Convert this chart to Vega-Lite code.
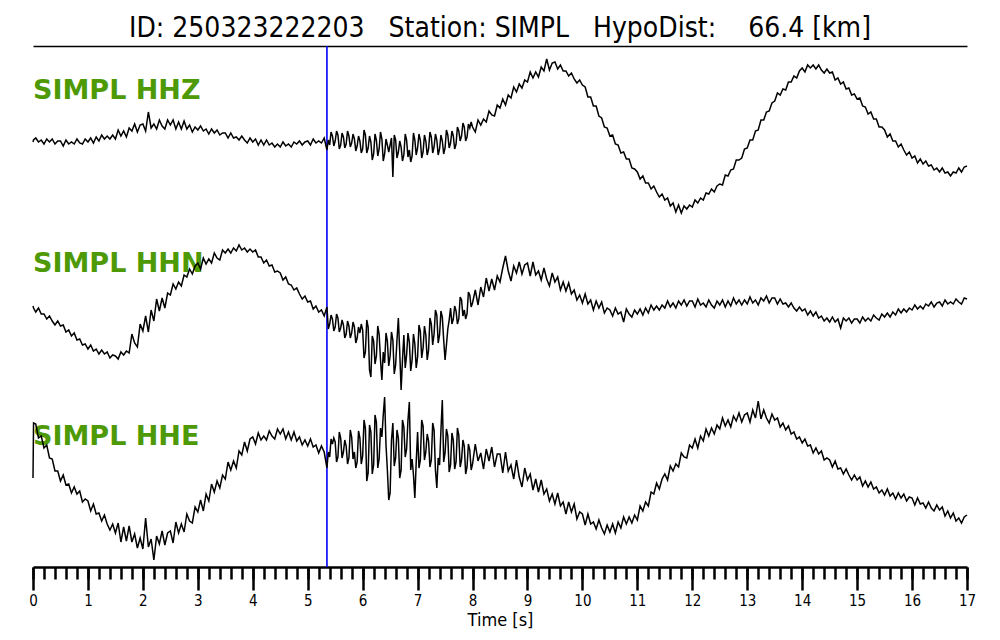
{
"$schema": "https://vega.github.io/schema/vega-lite/v6.json",
"width": 934, "height": 521,
"autosize": {"type": "none"},
"padding": {"left": 33, "top": 46, "right": 33, "bottom": 73},
"background": "white",
"title": {"text": "ID: 250323222203\u00a0\u00a0 Station: SIMPL\u00a0\u00a0 HypoDist:\u00a0\u00a0\u00a0 66.4 [km]", "font": "DejaVu Sans Condensed, DejaVu Sans", "fontSize": 28, "fontWeight": "normal", "color": "black", "anchor": "middle", "frame": "group", "offset": 2},
"config": {"view": {"stroke": null}, "axis": {"domainColor": "black", "tickColor": "black", "labelColor": "black", "titleColor": "black", "grid": false}},
"datasets": {"traces": [
{"t":0,"z":142,"n":306,"e":478},{"t":0.01,"z":140,"n":308,"e":423},{"t":0.05,"z":138,"n":312,"e":424},{"t":0.1,"z":142,"n":308,"e":438},{"t":0.15,"z":140,"n":314,"e":436},{"t":0.2,"z":144,"n":314,"e":448},{"t":0.25,"z":139,"n":319,"e":445},{"t":0.3,"z":142,"n":316,"e":458},{"t":0.35,"z":139,"n":321,"e":459},{"t":0.4,"z":144,"n":325,"e":471},{"t":0.45,"z":141,"n":321,"e":471},
{"t":0.5,"z":141,"n":326,"e":481},{"t":0.55,"z":146,"n":325,"e":475},{"t":0.6,"z":140,"n":332,"e":485},{"t":0.65,"z":144,"n":330,"e":484},{"t":0.7,"z":142,"n":336,"e":493},{"t":0.75,"z":144,"n":333,"e":487},{"t":0.8,"z":139,"n":340,"e":494},{"t":0.85,"z":143,"n":339,"e":491},{"t":0.9,"z":144,"n":345,"e":502},{"t":0.95,"z":139,"n":344,"e":499},
{"t":1.0,"z":142,"n":349,"e":501},{"t":1.05,"z":138,"n":345,"e":511},{"t":1.1,"z":143,"n":351,"e":504},{"t":1.15,"z":137,"n":349,"e":514},{"t":1.2,"z":141,"n":354,"e":513},{"t":1.25,"z":135,"n":350,"e":521},{"t":1.3,"z":139,"n":354,"e":515},{"t":1.35,"z":136,"n":352,"e":524},{"t":1.4,"z":139,"n":358,"e":530},{"t":1.45,"z":135,"n":355,"e":524},
{"t":1.5,"z":139,"n":356,"e":533},{"t":1.55,"z":130,"n":359,"e":523},{"t":1.6,"z":136,"n":352,"e":542},{"t":1.65,"z":131,"n":355,"e":527},{"t":1.7,"z":137,"n":351,"e":541},{"t":1.75,"z":128,"n":353,"e":526},{"t":1.8,"z":131,"n":334,"e":542},{"t":1.85,"z":124,"n":343,"e":534},{"t":1.9,"z":132,"n":347,"e":548},{"t":1.95,"z":125,"n":324,"e":538},
{"t":2.0,"z":124,"n":331,"e":549},{"t":2.05,"z":131,"n":316,"e":518},{"t":2.1,"z":112,"n":332,"e":547},{"t":2.15,"z":128,"n":310,"e":539},{"t":2.2,"z":124,"n":321,"e":560},{"t":2.25,"z":129,"n":299,"e":536},{"t":2.3,"z":120,"n":311,"e":544},{"t":2.35,"z":126,"n":298,"e":531},{"t":2.4,"z":129,"n":308,"e":545},{"t":2.45,"z":120,"n":293,"e":533},
{"t":2.5,"z":125,"n":295,"e":531},{"t":2.55,"z":120,"n":284,"e":543},{"t":2.6,"z":129,"n":289,"e":522},{"t":2.65,"z":122,"n":282,"e":533},{"t":2.7,"z":129,"n":286,"e":524},{"t":2.75,"z":121,"n":275,"e":532},{"t":2.8,"z":129,"n":277,"e":514},{"t":2.85,"z":125,"n":269,"e":521},{"t":2.9,"z":132,"n":274,"e":523},{"t":2.95,"z":127,"n":266,"e":507},
{"t":3.0,"z":130,"n":263,"e":512},{"t":3.05,"z":126,"n":269,"e":500},{"t":3.1,"z":131,"n":258,"e":511},{"t":3.15,"z":129,"n":264,"e":494},{"t":3.2,"z":134,"n":259,"e":501},{"t":3.25,"z":129,"n":263,"e":484},{"t":3.3,"z":133,"n":253,"e":492},{"t":3.35,"z":130,"n":258,"e":481},{"t":3.4,"z":135,"n":260,"e":488},{"t":3.45,"z":133,"n":250,"e":475},
{"t":3.5,"z":133,"n":253,"e":479},{"t":3.55,"z":138,"n":249,"e":462},{"t":3.6,"z":133,"n":253,"e":470},{"t":3.65,"z":138,"n":248,"e":461},{"t":3.7,"z":137,"n":251,"e":468},{"t":3.75,"z":140,"n":245,"e":451},{"t":3.8,"z":136,"n":250,"e":455},{"t":3.85,"z":140,"n":248,"e":442},{"t":3.9,"z":143,"n":252,"e":451},{"t":3.95,"z":138,"n":249,"e":439},
{"t":4.0,"z":142,"n":252,"e":437},{"t":4.05,"z":139,"n":250,"e":444},{"t":4.1,"z":145,"n":257,"e":433},{"t":4.15,"z":140,"n":257,"e":440},{"t":4.2,"z":145,"n":263,"e":436},{"t":4.25,"z":140,"n":260,"e":440},{"t":4.3,"z":145,"n":266,"e":431},{"t":4.35,"z":143,"n":265,"e":436},{"t":4.4,"z":147,"n":272,"e":439},{"t":4.45,"z":144,"n":271,"e":429},
{"t":4.5,"z":147,"n":273,"e":434},{"t":4.55,"z":142,"n":280,"e":429},{"t":4.6,"z":146,"n":277,"e":439},{"t":4.65,"z":144,"n":284,"e":432},{"t":4.7,"z":147,"n":285,"e":440},{"t":4.75,"z":142,"n":290,"e":432},{"t":4.8,"z":144,"n":288,"e":441},{"t":4.85,"z":141,"n":294,"e":437},{"t":4.9,"z":145,"n":299,"e":445},{"t":4.95,"z":142,"n":296,"e":440},
{"t":5.0,"z":141,"n":302,"e":446},{"t":5.05,"z":145,"n":301,"e":439},{"t":5.1,"z":139,"n":309,"e":447},{"t":5.15,"z":143,"n":306,"e":445},{"t":5.2,"z":141,"n":312,"e":453},{"t":5.25,"z":143,"n":310,"e":446},{"t":5.3,"z":138,"n":316,"e":452},{"t":5.35,"z":150,"n":307,"e":468},{"t":5.4,"z":145,"n":324,"e":457},{"t":5.45,"z":136,"n":319,"e":444},
{"t":5.5,"z":141,"n":327,"e":442},{"t":5.55,"z":135,"n":318,"e":457},{"t":5.6,"z":145,"n":328,"e":438},{"t":5.65,"z":137,"n":325,"e":452},{"t":5.7,"z":144,"n":334,"e":446},{"t":5.75,"z":136,"n":326,"e":458},{"t":5.8,"z":143,"n":333,"e":437},{"t":5.85,"z":139,"n":327,"e":452},{"t":5.9,"z":146,"n":338,"e":462},{"t":5.95,"z":141,"n":333,"e":438},
{"t":6.0,"z":149,"n":330,"e":456},{"t":6.05,"z":135,"n":352,"e":428},{"t":6.1,"z":148,"n":327,"e":473},{"t":6.15,"z":142,"n":377,"e":432},{"t":6.2,"z":154,"n":341,"e":465},{"t":6.25,"z":140,"n":356,"e":422},{"t":6.3,"z":149,"n":334,"e":459},{"t":6.35,"z":139,"n":380,"e":437},{"t":6.4,"z":154,"n":363,"e":397},{"t":6.45,"z":145,"n":341,"e":470},
{"t":6.5,"z":145,"n":356,"e":493},{"t":6.55,"z":177,"n":340,"e":423},{"t":6.6,"z":140,"n":365,"e":458},{"t":6.65,"z":152,"n":318,"e":438},{"t":6.7,"z":147,"n":390,"e":470},{"t":6.75,"z":155,"n":335,"e":427},{"t":6.8,"z":140,"n":355,"e":449},{"t":6.85,"z":150,"n":342,"e":402},{"t":6.9,"z":156,"n":360,"e":459},{"t":6.95,"z":140,"n":344,"e":498},
{"t":7.0,"z":148,"n":357,"e":432},{"t":7.05,"z":140,"n":331,"e":460},{"t":7.1,"z":152,"n":348,"e":426},{"t":7.15,"z":141,"n":335,"e":452},{"t":7.2,"z":149,"n":350,"e":441},{"t":7.25,"z":137,"n":324,"e":460},{"t":7.3,"z":147,"n":334,"e":430},{"t":7.35,"z":140,"n":315,"e":488},{"t":7.4,"z":149,"n":335,"e":465},{"t":7.45,"z":141,"n":317,"e":400},
{"t":7.5,"z":148,"n":360,"e":453},{"t":7.55,"z":135,"n":329,"e":436},{"t":7.6,"z":143,"n":308,"e":465},{"t":7.65,"z":136,"n":319,"e":440},{"t":7.7,"z":144,"n":311,"e":462},{"t":7.75,"z":131,"n":319,"e":435},{"t":7.8,"z":136,"n":300,"e":460},{"t":7.85,"z":127,"n":310,"e":446},{"t":7.9,"z":137,"n":314,"e":467},{"t":7.95,"z":128,"n":295,"e":450},
{"t":8.0,"z":127,"n":303,"e":464},{"t":8.05,"z":132,"n":290,"e":444},{"t":8.1,"z":120,"n":305,"e":461},{"t":8.15,"z":125,"n":287,"e":453},{"t":8.2,"z":119,"n":297,"e":469},{"t":8.25,"z":122,"n":278,"e":449},{"t":8.3,"z":111,"n":291,"e":461},{"t":8.35,"z":115,"n":279,"e":447},{"t":8.4,"z":116,"n":290,"e":467},{"t":8.45,"z":105,"n":276,"e":454},
{"t":8.5,"z":108,"n":282,"e":454},{"t":8.55,"z":99,"n":268,"e":473},{"t":8.6,"z":105,"n":256,"e":452},{"t":8.65,"z":95,"n":271,"e":471},{"t":8.7,"z":98,"n":281,"e":465},{"t":8.75,"z":87,"n":266,"e":479},{"t":8.8,"z":92,"n":273,"e":460},{"t":8.85,"z":84,"n":262,"e":477},{"t":8.9,"z":88,"n":274,"e":487},{"t":8.95,"z":80,"n":265,"e":468},
{"t":9.0,"z":82,"n":263,"e":480},{"t":9.05,"z":72,"n":276,"e":474},{"t":9.1,"z":78,"n":262,"e":490},{"t":9.15,"z":72,"n":275,"e":479},{"t":9.2,"z":77,"n":271,"e":492},{"t":9.25,"z":67,"n":280,"e":480},{"t":9.3,"z":71,"n":268,"e":494},{"t":9.35,"z":59,"n":279,"e":489},{"t":9.4,"z":70,"n":286,"e":501},{"t":9.45,"z":63,"n":273,"e":494},
{"t":9.5,"z":62,"n":282,"e":504},{"t":9.55,"z":69,"n":277,"e":493},{"t":9.6,"z":65,"n":290,"e":506},{"t":9.65,"z":71,"n":282,"e":502},{"t":9.7,"z":71,"n":291,"e":514},{"t":9.75,"z":76,"n":283,"e":502},{"t":9.8,"z":73,"n":294,"e":512},{"t":9.85,"z":79,"n":290,"e":504},{"t":9.9,"z":83,"n":300,"e":519},{"t":9.95,"z":80,"n":295,"e":512},
{"t":10.0,"z":85,"n":303,"e":514},{"t":10.05,"z":87,"n":294,"e":525},{"t":10.1,"z":97,"n":304,"e":514},{"t":10.15,"z":97,"n":300,"e":524},{"t":10.2,"z":106,"n":310,"e":522},{"t":10.25,"z":106,"n":301,"e":529},{"t":10.3,"z":116,"n":308,"e":520},{"t":10.35,"z":118,"n":302,"e":528},{"t":10.4,"z":127,"n":313,"e":534},{"t":10.45,"z":128,"n":308,"e":525},
{"t":10.5,"z":136,"n":310,"e":532},{"t":10.55,"z":135,"n":316,"e":524},{"t":10.6,"z":144,"n":308,"e":533},{"t":10.65,"z":145,"n":314,"e":522},{"t":10.7,"z":153,"n":312,"e":528},{"t":10.75,"z":152,"n":322,"e":517},{"t":10.8,"z":159,"n":309,"e":524},{"t":10.85,"z":159,"n":314,"e":517},{"t":10.9,"z":168,"n":317,"e":523},{"t":10.95,"z":169,"n":310,"e":515},
{"t":11.0,"z":172,"n":314,"e":520},{"t":11.05,"z":179,"n":309,"e":506},{"t":11.1,"z":176,"n":315,"e":511},{"t":11.15,"z":183,"n":308,"e":502},{"t":11.2,"z":183,"n":313,"e":506},{"t":11.25,"z":189,"n":305,"e":492},{"t":11.3,"z":186,"n":310,"e":494},{"t":11.35,"z":192,"n":306,"e":483},{"t":11.4,"z":197,"n":310,"e":489},{"t":11.45,"z":194,"n":305,"e":479},
{"t":11.5,"z":200,"n":308,"e":474},{"t":11.55,"z":198,"n":301,"e":480},{"t":11.6,"z":206,"n":307,"e":466},{"t":11.65,"z":203,"n":303,"e":471},{"t":11.7,"z":212,"n":308,"e":464},{"t":11.75,"z":205,"n":301,"e":467},{"t":11.8,"z":213,"n":305,"e":453},{"t":11.85,"z":206,"n":300,"e":457},{"t":11.9,"z":209,"n":306,"e":458},{"t":11.95,"z":205,"n":301,"e":445},
{"t":12.0,"z":207,"n":301,"e":448},{"t":12.05,"z":200,"n":307,"e":439},{"t":12.1,"z":203,"n":299,"e":448},{"t":12.15,"z":198,"n":305,"e":436},{"t":12.2,"z":200,"n":303,"e":441},{"t":12.25,"z":193,"n":307,"e":429},{"t":12.3,"z":194,"n":300,"e":436},{"t":12.35,"z":189,"n":305,"e":428},{"t":12.4,"z":192,"n":308,"e":434},{"t":12.45,"z":186,"n":301,"e":425},
{"t":12.5,"z":184,"n":305,"e":429},{"t":12.55,"z":185,"n":300,"e":418},{"t":12.6,"z":175,"n":307,"e":426},{"t":12.65,"z":176,"n":301,"e":420},{"t":12.7,"z":170,"n":306,"e":427},{"t":12.75,"z":169,"n":298,"e":416},{"t":12.8,"z":160,"n":304,"e":421},{"t":12.85,"z":160,"n":300,"e":413},{"t":12.9,"z":158,"n":305,"e":422},{"t":12.95,"z":149,"n":300,"e":415},
{"t":13.0,"z":148,"n":304,"e":413},{"t":13.05,"z":140,"n":297,"e":422},{"t":13.1,"z":140,"n":303,"e":410},{"t":13.15,"z":131,"n":300,"e":418},{"t":13.2,"z":130,"n":305,"e":401},{"t":13.25,"z":120,"n":298,"e":419},{"t":13.3,"z":120,"n":301,"e":410},{"t":13.35,"z":112,"n":296,"e":418},{"t":13.4,"z":111,"n":303,"e":423},{"t":13.45,"z":103,"n":298,"e":414},
{"t":13.5,"z":101,"n":298,"e":420},{"t":13.55,"z":93,"n":304,"e":418},{"t":13.6,"z":95,"n":299,"e":427},{"t":13.65,"z":89,"n":304,"e":423},{"t":13.7,"z":90,"n":303,"e":430},{"t":13.75,"z":82,"n":307,"e":426},{"t":13.8,"z":82,"n":303,"e":434},{"t":13.85,"z":76,"n":308,"e":432},{"t":13.9,"z":78,"n":311,"e":439},{"t":13.95,"z":71,"n":307,"e":437},
{"t":14.0,"z":68,"n":311,"e":443},{"t":14.05,"z":72,"n":309,"e":439},{"t":14.1,"z":65,"n":315,"e":446},{"t":14.15,"z":68,"n":311,"e":445},{"t":14.2,"z":65,"n":316,"e":453},{"t":14.25,"z":69,"n":312,"e":448},{"t":14.3,"z":65,"n":318,"e":454},{"t":14.35,"z":70,"n":316,"e":451},{"t":14.4,"z":73,"n":321,"e":460},{"t":14.45,"z":69,"n":318,"e":458},
{"t":14.5,"z":73,"n":322,"e":460},{"t":14.55,"z":72,"n":317,"e":467},{"t":14.6,"z":80,"n":322,"e":461},{"t":14.65,"z":78,"n":319,"e":469},{"t":14.7,"z":84,"n":328,"e":468},{"t":14.75,"z":82,"n":318,"e":474},{"t":14.8,"z":89,"n":321,"e":469},{"t":14.85,"z":88,"n":318,"e":475},{"t":14.9,"z":95,"n":323,"e":480},{"t":14.95,"z":94,"n":319,"e":475},
{"t":15.0,"z":99,"n":319,"e":480},{"t":15.05,"z":98,"n":323,"e":477},{"t":15.1,"z":106,"n":317,"e":486},{"t":15.15,"z":107,"n":321,"e":481},{"t":15.2,"z":114,"n":318,"e":487},{"t":15.25,"z":112,"n":321,"e":482},{"t":15.3,"z":119,"n":315,"e":489},{"t":15.35,"z":119,"n":318,"e":487},{"t":15.4,"z":127,"n":320,"e":493},{"t":15.45,"z":127,"n":314,"e":490},
{"t":15.5,"z":130,"n":317,"e":495},{"t":15.55,"z":137,"n":313,"e":489},{"t":15.6,"z":134,"n":317,"e":496},{"t":15.65,"z":141,"n":312,"e":493},{"t":15.7,"z":141,"n":315,"e":499},{"t":15.75,"z":147,"n":309,"e":493},{"t":15.8,"z":144,"n":313,"e":498},{"t":15.85,"z":150,"n":309,"e":494},{"t":15.9,"z":155,"n":312,"e":501},{"t":15.95,"z":152,"n":308,"e":497},
{"t":16.0,"z":158,"n":310,"e":498},{"t":16.05,"z":156,"n":305,"e":505},{"t":16.1,"z":163,"n":309,"e":498},{"t":16.15,"z":159,"n":306,"e":504},{"t":16.2,"z":164,"n":309,"e":503},{"t":16.25,"z":161,"n":304,"e":508},{"t":16.3,"z":166,"n":306,"e":502},{"t":16.35,"z":165,"n":302,"e":508},{"t":16.4,"z":170,"n":307,"e":511},{"t":16.45,"z":168,"n":303,"e":505},
{"t":16.5,"z":172,"n":302,"e":510},{"t":16.55,"z":168,"n":306,"e":507},{"t":16.6,"z":173,"n":300,"e":516},{"t":16.65,"z":172,"n":304,"e":511},{"t":16.7,"z":176,"n":302,"e":518},{"t":16.75,"z":172,"n":304,"e":513},{"t":16.8,"z":173,"n":299,"e":521},{"t":16.85,"z":168,"n":302,"e":518},{"t":16.9,"z":172,"n":304,"e":523},{"t":16.95,"z":167,"n":298,"e":517},{"t":17.0,"z":166,"n":299,"e":515},
{"t":5.375,"z":140,"n":329,"e":452},{"t":5.425,"z":132,"n":315,"e":439},{"t":5.475,"z":146,"n":331,"e":438},{"t":5.525,"z":131,"n":314,"e":462},{"t":5.575,"z":149,"n":332,"e":432},{"t":5.625,"z":133,"n":320,"e":458},{"t":5.675,"z":148,"n":338,"e":440},{"t":5.725,"z":131,"n":321,"e":464},{"t":5.775,"z":147,"n":338,"e":430},{"t":5.825,"z":134,"n":322,"e":459},
{"t":5.875,"z":151,"n":343,"e":468},{"t":5.925,"z":136,"n":327,"e":431},{"t":5.975,"z":153,"n":324,"e":464},{"t":6.025,"z":130,"n":358,"e":420},{"t":6.075,"z":153,"n":320,"e":481},{"t":6.125,"z":136,"n":370,"e":425},{"t":6.175,"z":160,"n":336,"e":474},{"t":6.225,"z":134,"n":364,"e":415},{"t":6.275,"z":156,"n":326,"e":468},{"t":6.325,"z":132,"n":360,"e":428},
{"t":6.375,"z":161,"n":352,"e":415},{"t":6.425,"z":139,"n":333,"e":445},{"t":6.475,"z":152,"n":366,"e":500},{"t":6.525,"z":138,"n":332,"e":440},{"t":6.575,"z":135,"n":374,"e":466},{"t":6.625,"z":158,"n":340,"e":430},{"t":6.675,"z":141,"n":352,"e":478},{"t":6.725,"z":161,"n":360,"e":420},{"t":6.775,"z":134,"n":368,"e":457},{"t":6.825,"z":157,"n":333,"e":420},
{"t":6.875,"z":162,"n":371,"e":470},{"t":6.925,"z":133,"n":334,"e":475},{"t":6.975,"z":155,"n":368,"e":462},{"t":7.025,"z":134,"n":325,"e":468},{"t":7.075,"z":158,"n":358,"e":420},{"t":7.125,"z":135,"n":326,"e":460},{"t":7.175,"z":155,"n":360,"e":434},{"t":7.225,"z":132,"n":318,"e":467},{"t":7.275,"z":153,"n":345,"e":423},{"t":7.325,"z":134,"n":310,"e":470},
{"t":7.375,"z":155,"n":343,"e":458},{"t":7.425,"z":135,"n":311,"e":430},{"t":7.475,"z":154,"n":340,"e":462},{"t":7.525,"z":130,"n":345,"e":429},{"t":7.575,"z":148,"n":320,"e":472},{"t":7.625,"z":131,"n":324,"e":433},{"t":7.675,"z":149,"n":306,"e":469},{"t":7.725,"z":127,"n":324,"e":428},{"t":7.775,"z":141,"n":297,"e":467},{"t":7.825,"z":123,"n":316,"e":440},
{"t":7.875,"z":141,"n":319,"e":474},{"t":7.925,"z":124,"n":292,"e":444},{"t":7.975,"z":122,"n":307,"e":470}
]},
"layer": [
{"data": {"values": [{"label": "SIMPL HHZ", "t": 0, "y": 91}, {"label": "SIMPL HHN", "t": 0, "y": 264}, {"label": "SIMPL HHE", "t": 0, "y": 437}]},
 "mark": {"type": "text", "align": "left", "baseline": "middle", "font": "DejaVu Sans", "fontSize": 27, "fontWeight": "bold", "color": "#4e9a06"},
 "encoding": {
  "x": {"field": "t", "type": "quantitative", "scale": {"domain": [0, 17], "nice": false, "zero": false}, "axis": null},
  "y": {"field": "y", "type": "quantitative", "scale": {"domain": [567, 46], "nice": false, "zero": false}, "axis": null},
  "text": {"field": "label"}}},
{"data": {"values": [{"pick": 5.35}]},
 "mark": {"type": "rule", "color": "#0000ff", "strokeWidth": 1.6},
 "encoding": {"x": {"field": "pick", "type": "quantitative", "axis": null}}},
{"data": {"name": "traces"},
 "mark": {"type": "line", "color": "black", "strokeWidth": 1.5},
 "encoding": {
  "x": {"field": "t", "type": "quantitative", "axis": {"orient": "bottom", "values": [0,1,2,3,4,5,6,7,8,9,10,11,12,13,14,15,16,17], "format": "d", "tickSize": 23, "tickWidth": 2.5, "domainWidth": 2.5, "labelFont": "DejaVu Sans Condensed, DejaVu Sans", "labelFontSize": 15, "labelPadding": 3, "labelFlush": false, "labelOverlap": false, "labelBound": false, "title": "Time [s]", "titleFont": "DejaVu Sans Condensed, DejaVu Sans", "titleFontSize": 18, "titleFontWeight": "normal", "titlePadding": 3}},
  "y": {"field": "z", "type": "quantitative", "axis": null}}},
{"data": {"name": "traces"},
 "mark": {"type": "line", "color": "black", "strokeWidth": 1.5},
 "encoding": {
  "x": {"field": "t", "type": "quantitative", "axis": {"orient": "bottom", "values": [0,0.2,0.4,0.6,0.8,1,1.2,1.4,1.6,1.8,2,2.2,2.4,2.6,2.8,3,3.2,3.4,3.6,3.8,4,4.2,4.4,4.6,4.8,5,5.2,5.4,5.6,5.8,6,6.2,6.4,6.6,6.8,7,7.2,7.4,7.6,7.8,8,8.2,8.4,8.6,8.8,9,9.2,9.4,9.6,9.8,10,10.2,10.4,10.6,10.8,11,11.2,11.4,11.6,11.8,12,12.2,12.4,12.6,12.8,13,13.2,13.4,13.6,13.8,14,14.2,14.4,14.6,14.8,15,15.2,15.4,15.6,15.8,16,16.2,16.4,16.6,16.8,17], "tickSize": 12, "tickWidth": 2.5, "domain": false, "labels": false, "title": null}},
  "y": {"field": "n", "type": "quantitative", "axis": null}}},
{"data": {"name": "traces"},
 "mark": {"type": "line", "color": "black", "strokeWidth": 1.5},
 "encoding": {
  "x": {"field": "t", "type": "quantitative", "axis": {"orient": "top", "ticks": false, "labels": false, "title": null, "domain": true, "domainWidth": 1.5}},
  "y": {"field": "e", "type": "quantitative", "axis": null}}}
],
"resolve": {"axis": {"x": "independent"}}
}
